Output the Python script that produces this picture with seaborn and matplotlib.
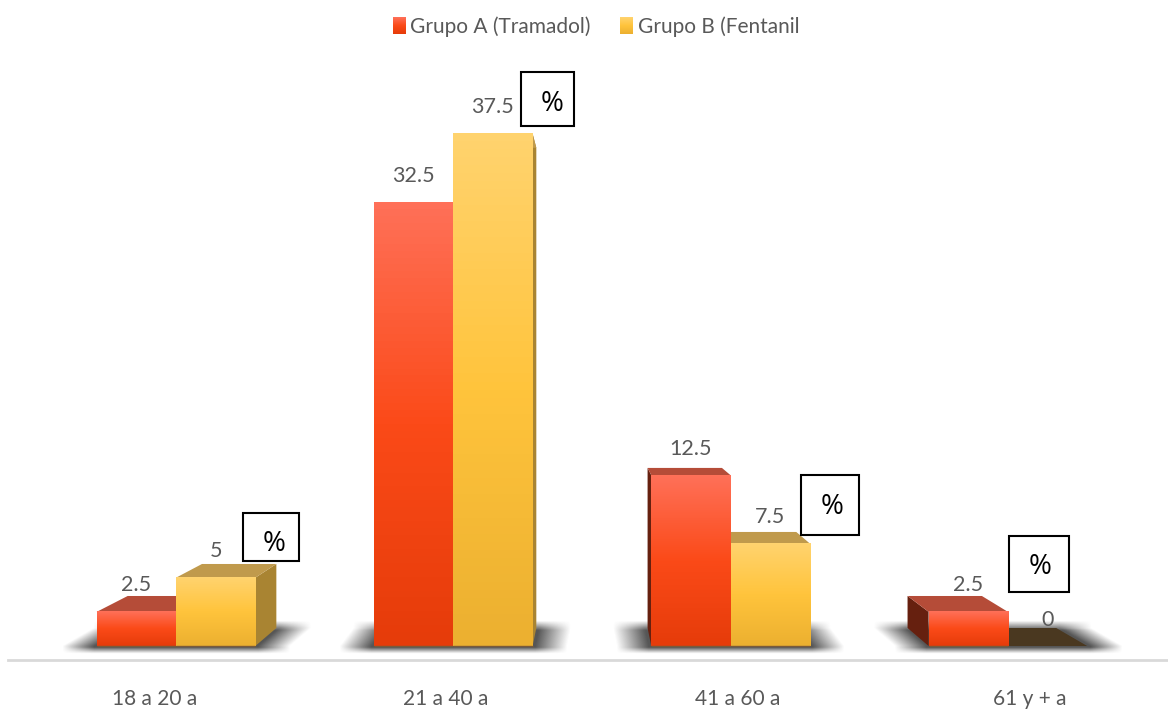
import numpy as np
import pandas as pd
import matplotlib
matplotlib.use("Agg")
import matplotlib.pyplot as plt
import seaborn as sns
from matplotlib.colors import LinearSegmentedColormap
from matplotlib.patches import Rectangle

# values
edades = ["18 a 20 a", "21 a 40 a", "41 a 60 a", "61 y + a"]
grupo_a = [2.5, 32.5, 12.5, 2.5]
grupo_b = [5, 37.5, 7.5, 0]
grupos = ["Grupo A (Tramadol)", "Grupo B (Fentanil"]

# boxes with the % sign, in picture pixels (x0, y0, x1, y1) and centre of the sign
cajas = [(243, 513, 299, 561), (521, 72, 574, 126), (801, 475, 859, 535), (1009, 536, 1069, 592)]
signos = [(274, 544), (552, 104), (832, 507), (1040, 567)]

W, H = 1168, 715
PX_X = 277.3      # pixels per category
PX_Y = 13.66      # pixels per percent point
VP = (1.5, 21.08) # vanishing point of the fake 3D
K = 0.0625

grad_rojo = LinearSegmentedColormap.from_list("r", ["#e63c0a", "#fb4a18", "#ff7058"])
grad_amar = LinearSegmentedColormap.from_list("y", ["#ecb030", "#ffc43c", "#ffd36e"])
caras = {"top": ["#b54c38", "#c09a4c"], "side_l": ["#66200f", "#8a6a28"], "side_r": ["#8a3020", "#a98432"]}
PISO = "#4a3820"

sns.set_theme(style="white")
plt.rcParams["font.family"] = ["Lato", "Open Sans", "DejaVu Sans"]

df = pd.DataFrame({
    "edad": edades * 2,
    "pct": grupo_a + grupo_b,
    "grupo": [grupos[0]] * 4 + [grupos[1]] * 4,
})

fig = plt.figure(figsize=(W / 100, H / 100), dpi=100)
ax = fig.add_axes([8 / W, (H - 660) / H, (W - 8) / W, 660 / H])
sns.barplot(data=df, x="edad", y="pct", hue="grupo", palette=["#f04a1a", "#fcbc3c"],
            width=0.572, gap=0, saturation=1, linewidth=0, ax=ax)

xlim = ((8 - 176) / PX_X, (W - 176) / PX_X)
ylim = (-14 / PX_Y, 646 / PX_Y)


def atras(x, y):
    return x + K * (VP[0] - x), y + K * (VP[1] - y)


def sombra(x0, x1, ax_):
    # soft floor shadow that follows the perspective of the cluster
    xs = np.linspace(x0 - 0.35, x1 + 0.35, 300)
    ys = np.linspace(-0.8, 2.4, 70)
    xx, yy = np.meshgrid(xs, ys)
    t = np.clip(yy / atras(0, 0)[1], 0, 1)
    izq = x0 + t * K * (VP[0] - x0)
    der = x1 + t * K * (VP[0] - x1)
    fx = np.clip((xx - izq + 0.125) / 0.115, 0, 1) * np.clip((der + 0.125 - xx) / 0.115, 0, 1)
    fy = np.clip((yy + 0.55) / 0.45, 0, 1) * np.clip((1.85 - yy) / 0.7, 0, 1)
    img = np.zeros(xx.shape + (4,))
    img[..., :3] = 0.22
    img[..., 3] = fx * fy * 0.85
    ax_.imshow(img, extent=(xs[0], xs[-1], ys[0], ys[-1]), origin="lower", aspect="auto",
               zorder=0.5, interpolation="bilinear")


for c in range(len(edades)):
    ancho = ax.containers[0][c].get_width()
    sombra(c - ancho, c + ancho, ax)

barras = []
for g, cont in enumerate(ax.containers):
    for p in cont:
        barras.append((g, p))
barras.sort(key=lambda b: -abs(b[1].get_x() + b[1].get_width() / 2 - VP[0]))

for i, (g, p) in enumerate(barras):
    z = 2 + i
    x0, x1, h = p.get_x(), p.get_x() + p.get_width(), p.get_height()
    p.set_zorder(z + 0.4)
    ax0, ah = atras(x0, h)
    ax1, _ = atras(x1, h)
    _, ab = atras(x0, 0)
    if h == 0:
        ax.fill([x0, x1, ax1, ax0], [0, 0, ab, ab], color=PISO, lw=0, zorder=z)
        continue
    if x1 < VP[0]:
        ax.fill([x1, x1, ax1, ax1], [0, h, ah, ab], color=caras["side_r"][g], lw=0, zorder=z)
    if x0 > VP[0]:
        ax.fill([x0, x0, ax0, ax0], [0, h, ah, ab], color=caras["side_l"][g], lw=0, zorder=z)
    ax.fill([x0, x1, ax1, ax0], [h, h, ah, ah], color=caras["top"][g], lw=0, zorder=z + 0.1)
    ax.imshow(np.linspace(0, 1, 64).reshape(-1, 1), extent=(x0, x1, 0, h), origin="lower", aspect="auto",
              cmap=grad_rojo if g == 0 else grad_amar, zorder=z + 0.5)
    ax.plot([x0, x1], [0, 0], color="#7a5a3a", lw=1, zorder=z + 0.6, solid_capstyle="butt")

# value labels
for cont in ax.containers:
    for p in cont:
        ax.annotate(f"{p.get_height():g}", (p.get_x() + p.get_width() / 2, p.get_height()),
                    xytext=(0, 19), textcoords="offset points", ha="center", va="center",
                    fontsize=15.5, color="#595959", zorder=40)

ax.set_xlim(xlim)
ax.set_ylim(ylim)
ax.set_xlabel("")
ax.set_ylabel("")
ax.set_yticks([])
# the axis labels sit on the nearer floor edge, so they spread out from the vanishing point
ax.set_xticks([VP[0] + 1.052 * (c - VP[0]) for c in range(len(edades))], edades)
ax.tick_params(axis="x", length=0, pad=21, labelsize=15, labelcolor="#595959")
sns.despine(ax=ax, left=True)
ax.spines["bottom"].set_color("#d9d9d9")
ax.spines["bottom"].set_linewidth(2)

# legend on top
sns.move_legend(ax, "upper center", bbox_to_anchor=(0.507, 1.0), ncol=2, title=None, frameon=False,
                fontsize=15, labelcolor="#595959", handlelength=0.62, handleheight=0.82,
                handletextpad=0.24, columnspacing=1.4, borderaxespad=0.4)

fig.canvas.draw()
inv = ax.transData.inverted()
for g, hd in enumerate(ax.get_legend().get_patches()):
    bb = hd.get_window_extent()
    (a0, b0), (a1, b1) = inv.transform([(bb.x0, bb.y0), (bb.x1, bb.y1)])
    ax.imshow(np.linspace(0, 1, 32).reshape(-1, 1), extent=(a0, a1, b0, b1), origin="lower", aspect="auto",
              cmap=grad_rojo if g == 0 else grad_amar, zorder=50)
ax.set_xlim(xlim)
ax.set_ylim(ylim)

# the % boxes
for (x0, y0, x1, y1), (sx, sy) in zip(cajas, signos):
    fig.add_artist(Rectangle((x0 / W, 1 - y1 / H), (x1 - x0) / W, (y1 - y0) / H, transform=fig.transFigure,
                             facecolor="white", edgecolor="black", lw=1.5, zorder=60))
    fig.text(sx / W, 1 - sy / H, "%", ha="center", va="center", fontsize=20,
             color="black", family=["Open Sans", "DejaVu Sans"], zorder=61)

fig.savefig("out.png", dpi=100)
